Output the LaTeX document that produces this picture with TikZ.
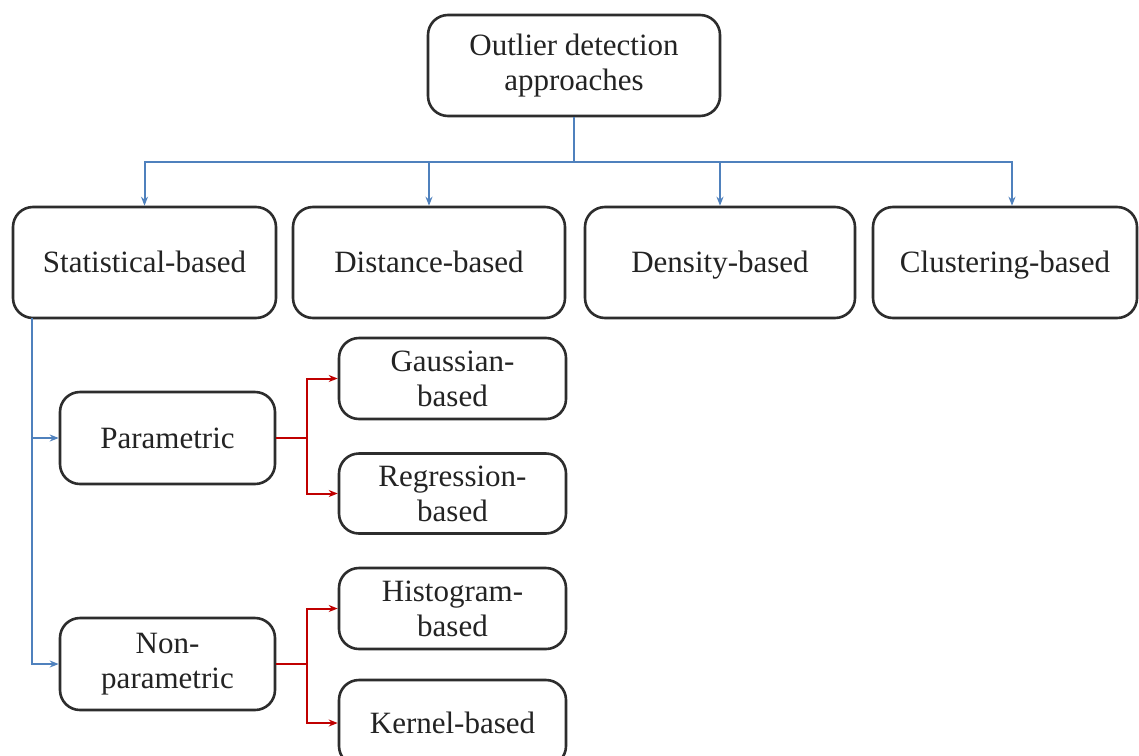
\documentclass[tikz,border=0pt]{standalone}
\usepackage{fontspec}
\setmainfont{Liberation Serif}
\usetikzlibrary{arrows.meta}
\definecolor{lineblue}{RGB}{79,129,189}
\definecolor{linered}{RGB}{192,0,0}
\definecolor{boxborder}{RGB}{45,45,45}
\definecolor{txt}{RGB}{35,35,35}
\tikzset{
  box/.style={draw=boxborder, line width=2.6pt, rounded corners=20pt, fill=white,
    inner sep=0pt, align=center, text=txt,
    font=\fontsize{31}{35}\selectfont},
  onebox/.style={box, text height=20pt, text depth=0pt},
  barrow/.style={draw=lineblue, line width=2pt, -{Stealth[length=9pt,width=7pt]}},
  bline/.style={draw=lineblue, line width=2pt},
  rline/.style={draw=linered, line width=2pt},
  rarrow/.style={draw=linered, line width=2pt, -{Stealth[length=9pt,width=7pt]}},
}
\begin{document}
\begin{tikzpicture}[x=1pt,y=-1pt]
\useasboundingbox (0,0) rectangle (1139,755);
\clip (0,0) rectangle (1139,755);
\fill[white] (0,0) rectangle (1139,755);

% nodes
\node[box, minimum width=292pt, minimum height=101pt] (top) at (574,65.5) {Outlier detection\\approaches};
\node[onebox, minimum width=263pt, minimum height=111pt] (stat) at (144.5,262.5) {Statistical-based};
\node[onebox, minimum width=272pt, minimum height=111pt] (dist) at (429,262.5) {Distance-based};
\node[onebox, minimum width=270pt, minimum height=111pt] (dens) at (720,262.5) {Density-based};
\node[onebox, minimum width=264pt, minimum height=111pt] (clus) at (1005,262.5) {Clustering-based};

\node[onebox, minimum width=215pt, minimum height=92pt] (par) at (167.5,438) {Parametric};
\node[box, minimum width=215pt, minimum height=92pt] (nonp) at (167.5,664) {Non-\\parametric};

\node[box, minimum width=227pt, minimum height=81pt] (gauss) at (452.5,378.5) {Gaussian-\\based};
\node[box, minimum width=227pt, minimum height=80pt] (regr) at (452.5,493.5) {Regression-\\based};
\node[box, minimum width=227pt, minimum height=81pt] (hist) at (452.5,608.5) {Histogram-\\based};
\node[onebox, minimum width=227pt, minimum height=86pt] (kern) at (452.5,723) {Kernel-based};

% blue connectors from top
\coordinate (j) at (574,162);
\draw[bline] (top.south) -- (j);
\draw[barrow] (j) -| (stat.north);
\draw[barrow] (j) -| (dist.north);
\draw[barrow] (j) -| (dens.north);
\draw[barrow] (j) -| ([xshift=7pt]clus.north);

% blue connectors from statistical
\coordinate (v) at (32,318);
\draw[barrow] (v) |- (nonp.west);
\draw[barrow] (v |- par.west) -- (par.west);

% red connectors
\coordinate (rp) at (307,438);
\coordinate (rn) at (307,664);
\draw[rline] (par.east) -- (rp);
\draw[rarrow] (rp) |- (gauss.west);
\draw[rarrow] (rp) |- (regr.west);
\draw[rline] (nonp.east) -- (rn);
\draw[rarrow] (rn) |- (hist.west);
\draw[rarrow] (rn) |- (kern.west);
\end{tikzpicture}
\end{document}
